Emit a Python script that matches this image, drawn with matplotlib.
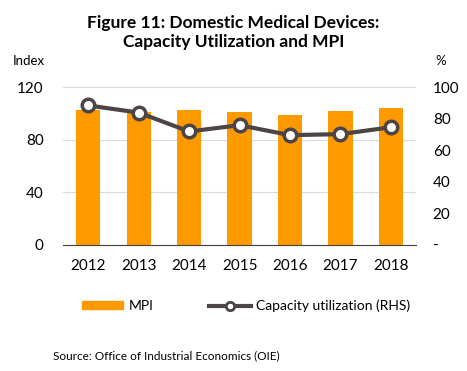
import matplotlib.pyplot as plt
from matplotlib.lines import Line2D
from matplotlib.patches import Patch

plt.rcParams['font.family'] = ['Lato', 'DejaVu Sans']

years = ['2012', '2013', '2014', '2015', '2016', '2017', '2018']
mpi = [102.7, 101.0, 102.7, 101.2, 99.2, 102.0, 104.3]
capacity = [88.4, 83.9, 71.9, 75.9, 69.6, 70.2, 74.6]

bar_color = '#FF9900'
line_color = '#4D4446'

fig = plt.figure(figsize=(4.67, 3.71), dpi=100)
ax = fig.add_axes([0.135, 0.34, 0.756, 0.425])
x = range(len(years))

ax.bar(x, mpi, width=0.48, color=bar_color, zorder=2)
ax.set_ylim(0, 120)
ax.set_yticks([0, 40, 80, 120])
ax.set_xlim(-0.5, len(years) - 0.5)
ax.set_xticks(list(x))
ax.set_xticklabels(years)
ax.grid(axis='y', color='#D9D9D9', linewidth=0.8, zorder=0)
for s in ['top', 'right', 'left']:
    ax.spines[s].set_visible(False)
ax.spines['bottom'].set_color('#404040')
ax.tick_params(axis='both', length=0, labelsize=11)
ax.tick_params(axis='y', pad=14)
ax.tick_params(axis='x', pad=10)

ax2 = ax.twinx()
ax2.plot(x, capacity, color=line_color, linewidth=3, marker='o', markersize=9,
         markerfacecolor='white', markeredgecolor=line_color, markeredgewidth=2.5, zorder=3)
ax2.set_ylim(0, 100)
ax2.set_yticks([0, 20, 40, 60, 80, 100])
ax2.set_yticklabels(['-', '20', '40', '60', '80', '100'])
for s in ax2.spines.values():
    s.set_visible(False)
ax2.tick_params(axis='y', length=0, labelsize=11, pad=12)

fig.text(0.5, 0.913, 'Figure 11: Domestic Medical Devices:\nCapacity Utilization and MPI',
         ha='center', va='center', fontsize=12.5, fontweight='bold', linespacing=1.25)
fig.text(0.028, 0.835, 'Index', fontsize=9.5, va='center')
fig.text(0.932, 0.835, '%', fontsize=9.5, va='center')

handles = [Patch(color=bar_color),
           Line2D([0], [0], color=line_color, linewidth=3, marker='o', markersize=6,
                  markerfacecolor='white', markeredgecolor=line_color, markeredgewidth=2)]
fig.legend(handles, ['MPI', 'Capacity utilization (RHS)'], loc='center',
           bbox_to_anchor=(0.527, 0.175), ncol=2, frameon=False, fontsize=10,
           handlelength=3, handleheight=0.5, columnspacing=4, handletextpad=0.4)

fig.text(0.113, 0.04, 'Source: Office of Industrial Economics (OIE)', fontsize=8.5, va='center')

fig.savefig('out.png', dpi=100)
